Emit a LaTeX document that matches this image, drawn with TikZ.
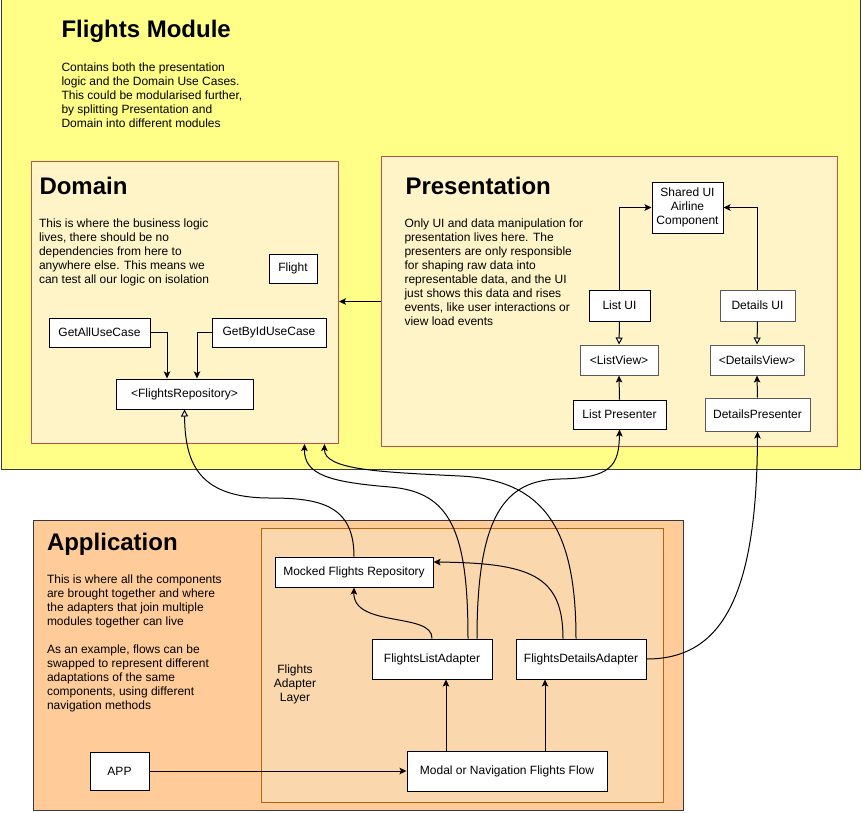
\documentclass[tikz,border=0pt]{standalone}
\usepackage{fontspec}
\setmainfont{Liberation Sans}
\usetikzlibrary{arrows.meta,calc}
\definecolor{fmfill}{HTML}{FFFF88}
\definecolor{darkstroke}{HTML}{36393D}
\definecolor{innerfill}{HTML}{FFF4C8}
\definecolor{redstroke}{HTML}{B85450}
\definecolor{appfill}{HTML}{FFCC99}
\definecolor{layerfill}{HTML}{FAD7AC}
\definecolor{layerstroke}{HTML}{B46504}
\begin{document}
\begin{tikzpicture}[x=1pt,y=-1pt,line width=1pt,
  body/.style={font=\fontsize{12}{14}\selectfont, inner sep=0pt, align=left},
  title/.style={font=\fontsize{24}{28}\selectfont\bfseries, inner sep=0pt, anchor=base west},
  box/.style={draw=black, fill=white, inner sep=0pt, font=\fontsize{12}{14}\selectfont, align=center},
  gbox/.style={box, draw=black!65},
  container/.style={inner sep=0pt, anchor=north west},
  arr/.style={-{Stealth[length=7pt,width=6.5pt,inset=1.5pt]}},
  opentri/.style={-{Triangle[length=7pt,width=7pt,fill=white]}}]
\useasboundingbox (0,0) rectangle (862,812);
% containers
\node[container, draw=darkstroke, fill=fmfill, minimum width=859pt, minimum height=471pt] (fm) at (1,-2) {};
\node[container, draw=redstroke, fill=innerfill, minimum width=307pt, minimum height=282pt] (dom) at (31,161) {};
\node[container, draw=redstroke, fill=innerfill, minimum width=456pt, minimum height=290pt] (pres) at (381,156) {};
\node[container, draw=darkstroke, fill=appfill, minimum width=650pt, minimum height=290pt] (appbox) at (33,520) {};
\node[container, draw=layerstroke, fill=layerfill, minimum width=402pt, minimum height=274pt] (layer) at (261,528) {};
% titles and texts
\node[title] (fmtitle) at (61,37.5) {Flights Module};
\node[body, anchor=north west] (fmtext) at (61,62.3) {Contains both the presentation\\logic and the Domain Use Cases.\\This could be modularised further,\\by splitting Presentation and\\Domain into different modules};
\node[title] (domtitle) at (39,194.3) {Domain};
\node[body, anchor=north west] (domtext) at (38.5,218.3) {This is where the business logic\\lives, there should be no\\dependencies from here to\\anywhere else. This means we\\can test all our logic on isolation};
\node[title] (prestitle) at (405,194.3) {Presentation};
\node[body, anchor=north west] (prestext) at (404,218.3) {Only UI and data manipulation for\\presentation lives here. The\\presenters are only responsible\\for shaping raw data into\\representable data, and the UI\\just shows this data and rises\\events, like user interactions or\\view load events};
\node[title] (apptitle) at (46.5,550) {Application};
\node[body, anchor=north west] (apptext) at (46.5,574.3) {This is where all the components\\are brought together and where\\the adapters that join multiple\\modules together can live\\[14pt]As an example, flows can be\\swapped to represent different\\adaptations of the same\\components, using different\\navigation methods};
\node[body, align=center, anchor=north] (layertext) at (295,664.4) {Flights\\Adapter\\Layer};
% domain boxes
\node[box, minimum width=48pt, minimum height=29pt] (flight) at (293,268.5) {Flight};
\node[box, minimum width=101pt, minimum height=29pt] (ga) at (99.5,332.5) {GetAllUseCase};
\node[box, minimum width=114pt, minimum height=29pt] (gb) at (269,332.5) {GetByIdUseCase};
\node[box, minimum width=137pt, minimum height=30pt] (repo) at (184.5,394) {<FlightsRepository>};
% presentation boxes
\node[box, minimum width=71pt, minimum height=51pt] (shared) at (687.5,207.5) {Shared UI\\Airline\\Component};
\node[box, minimum width=61pt, minimum height=31pt] (listui) at (619.5,305.5) {List UI};
\node[gbox, minimum width=75pt, minimum height=31pt] (detui) at (757.5,305.5) {Details UI};
\node[gbox, minimum width=78pt, minimum height=30pt] (listview) at (619,360) {<ListView>};
\node[gbox, minimum width=94pt, minimum height=30pt] (detview) at (757,360) {<DetailsView>};
\node[box, minimum width=93pt, minimum height=29pt] (listpres) at (619.5,414.5) {List Presenter};
\node[gbox, minimum width=105pt, minimum height=33pt] (detpres) at (757.5,414.5) {DetailsPresenter};
% application boxes
\node[box, minimum width=158pt, minimum height=30pt] (mock) at (354,572) {Mocked Flights Repository};
\node[box, minimum width=120pt, minimum height=40pt] (fla) at (432,659) {FlightsListAdapter};
\node[box, minimum width=130pt, minimum height=40pt] (fda) at (581,659) {FlightsDetailsAdapter};
\node[box, minimum width=200pt, minimum height=40pt] (modal) at (507,771) {Modal or Navigation Flights Flow};
\node[box, minimum width=59pt, minimum height=38pt] (app) at (119.5,771) {APP};
% domain connectors
\draw[arr] (ga.east) -| ([xshift=-17.5pt]repo.north);
\draw[arr] (gb.west) -| ([xshift=12.5pt]repo.north);
% presentation connectors
\draw[arr] (listui.north) |- (shared.west);
\draw[arr] (detui.north) |- (shared.east);
\draw[opentri] (listui.south) -- (listview.north);
\draw[opentri] (detui.south) -- (detview.north);
\draw[arr] (listpres.north) -- (listview.south);
\draw[arr] (detpres.north) -- (detview.south);
\draw[arr] (pres.west) -- (pres.west -| dom.east);
% application connectors
\draw[arr] (app.east) -- (modal.west);
\draw[arr] ([xshift=14pt]fla.south |- modal.north) -- ([xshift=14pt]fla.south);
\draw[arr] ([xshift=-36pt]fda.south |- modal.north) -- ([xshift=-36pt]fda.south);
\draw[arr] (fla.north) .. controls (433,612) and (353,628) .. (mock.south);
\draw[arr] ([xshift=-18pt]fda.north) .. controls (563,575) and (530,563) .. ([yshift=10pt]mock.east);
% cross-module connectors
\draw[opentri] (mock.north) .. controls (354,505) and (320,498) .. (270,498)
  .. controls (200,498) and (185,465) .. (repo.south);
\draw[arr] ([xshift=36pt]fla.north) .. controls (468,530) and (450,492) .. (390,487)
  .. controls (330,482) and (304,475) .. ([xshift=119.5pt]dom.south);
\draw[arr] ([xshift=-5pt]fda.north) .. controls (576,530) and (545,480) .. (460,476)
  .. controls (380,472) and (324,470) .. ([xshift=139.5pt]dom.south);
\draw[arr] ([xshift=45pt]fla.north) .. controls (477,515) and (505,480) .. (560,479)
  .. controls (612,478) and (619,465) .. (listpres.south);
\draw[arr] (fda.east) .. controls (720,659) and (757,600) .. (detpres.south);
\end{tikzpicture}
\end{document}
